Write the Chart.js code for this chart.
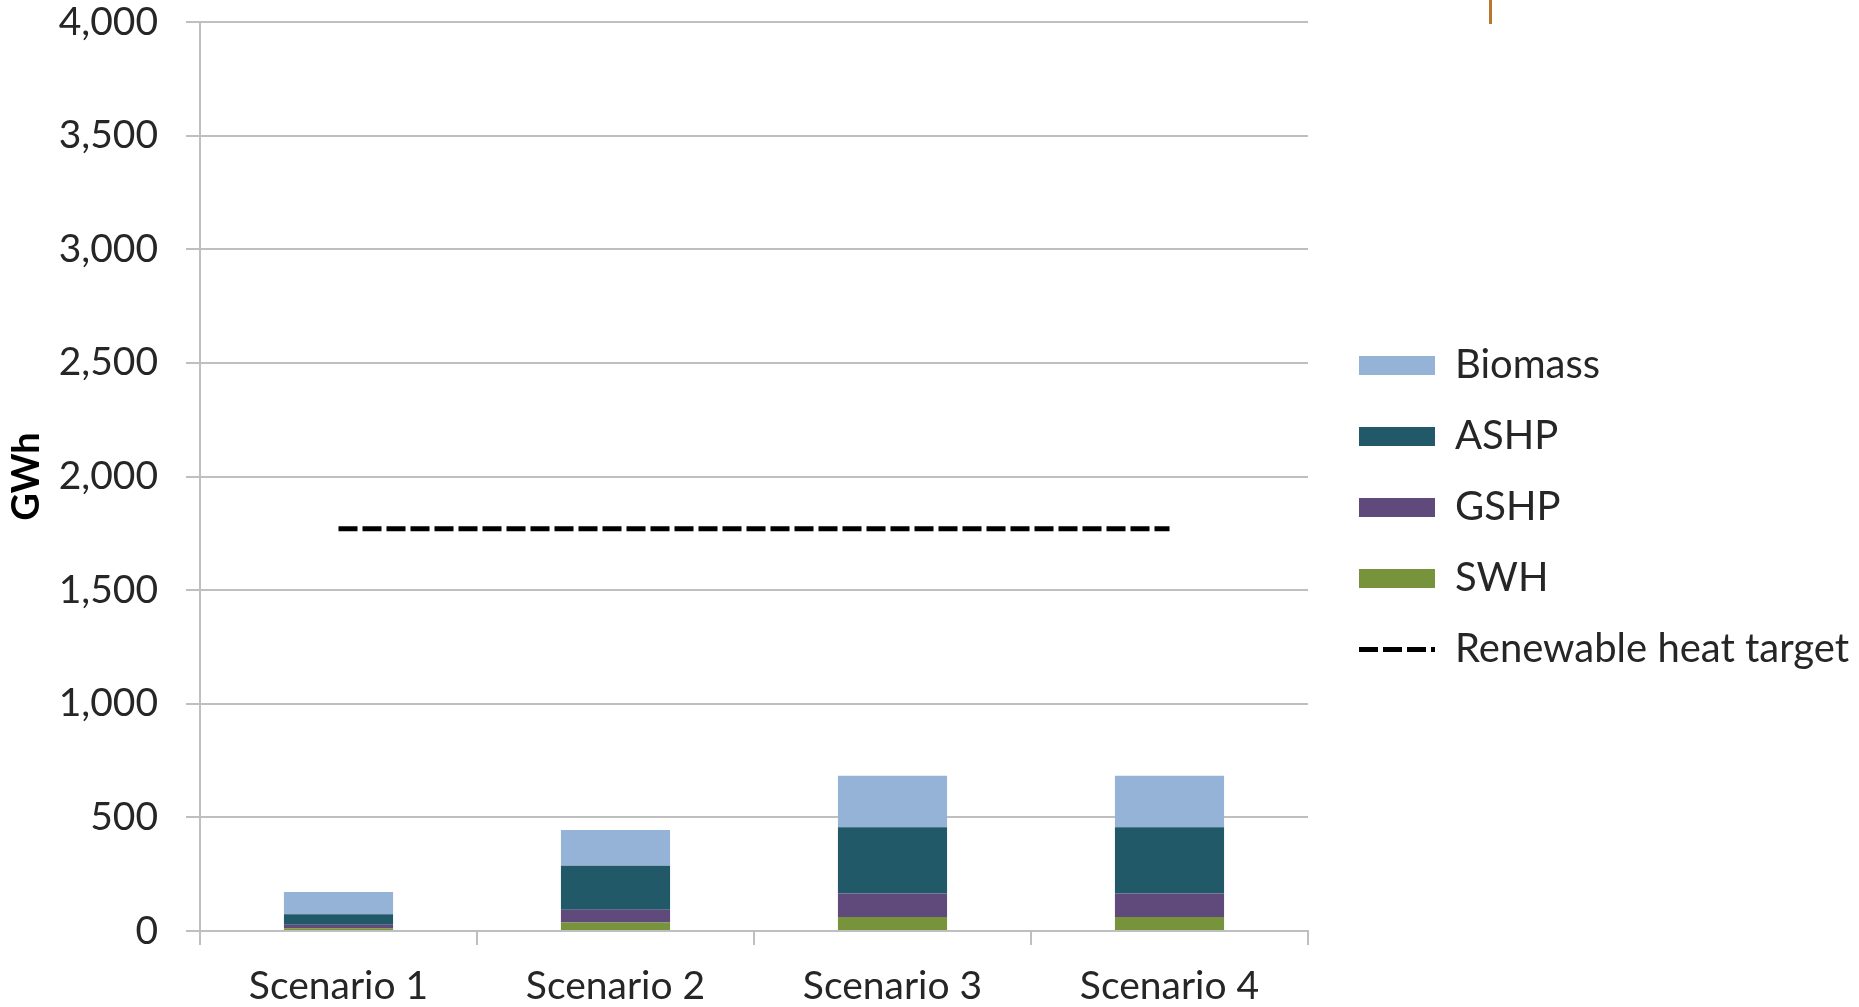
<!DOCTYPE html>
<html>
<head>
<meta charset="utf-8">
<script src="https://cdn.jsdelivr.net/npm/chart.js@4.4.1/dist/chart.umd.min.js"></script>
<style>
  html, body { margin: 0; padding: 0; background: #fff; }
  #wrap { position: relative; width: 1859px; height: 1007px; }
  #heatChart { display: block; }
  .stray-mark { position: absolute; left: 1489px; top: 0; width: 3px; height: 24px; background: #b8772e; }
</style>
</head>
<body>
<div id="wrap">
  <canvas id="heatChart" width="1859" height="1007"></canvas>
  <div class="stray-mark"></div>
</div>
<script>
const scenarios = ['Scenario 1', 'Scenario 2', 'Scenario 3', 'Scenario 4'];

// GWh per technology, bottom of the stack first
const swh = [12, 37, 62, 62];
const gshp = [16, 56, 103, 103];
const ashp = [46, 194, 291, 291];
const biomass = [98, 157, 227, 227];
const heatTarget = [1770, 1770, 1770, 1770];

const yTicks = [0, 500, 1000, 1500, 2000, 2500, 3000, 3500, 4000];

const textColor = '#262626';
const gridColor = '#bfbfbf';
const baseFont = 'Lato, "Open Sans", sans-serif';

// keep the legend at a fixed width and nudge its items right/down
const legendLayout = {
    id: 'legendLayout',
    beforeLayout(chart) {
        const lg = chart.legend;
        if (lg && !lg._fixedWidth) {
            const fit = lg.fit;
            lg.fit = function () {
                fit.call(this);
                this.width = 551;
            };
            lg._fixedWidth = true;
        }
    },
    afterLayout(chart) {
        const lg = chart.legend;
        if (lg) {
            lg.left += 20;
            lg.right += 20;
            lg.top += 4;
            lg.bottom += 4;
        }
    }
};

function makeLegendItems(chart) {
    const items = Chart.defaults.plugins.legend.labels.generateLabels(chart);
    items.forEach(item => {
        const ds = chart.data.datasets[item.datasetIndex];
        if (ds.type === 'line') {
            item.pointStyle = 'line';
            item.fillStyle = '#000';
            item.strokeStyle = '#000';
            item.lineWidth = 5;
            item.lineDash = [19, 5];
        } else {
            item.pointStyle = 'rect';
            item.lineWidth = 0;
        }
    });
    return items;
}

function initChart() {
    const ctx = document.getElementById('heatChart').getContext('2d');
    new Chart(ctx, {
        type: 'bar',
        data: {
            labels: scenarios,
            datasets: [
                { label: 'SWH', data: swh, backgroundColor: '#77933c', stack: 'tech' },
                { label: 'GSHP', data: gshp, backgroundColor: '#604a7b', stack: 'tech' },
                { label: 'ASHP', data: ashp, backgroundColor: '#215968', stack: 'tech' },
                { label: 'Biomass', data: biomass, backgroundColor: '#95b3d7', stack: 'tech' },
                {
                    type: 'line',
                    label: 'Renewable heat target',
                    data: heatTarget,
                    stack: 'target',
                    borderColor: '#000',
                    backgroundColor: '#000',
                    borderWidth: 5,
                    borderDash: [19, 5],
                    pointRadius: 0,
                    fill: false
                }
            ]
        },
        options: {
            responsive: false,
            animation: false,
            devicePixelRatio: 1,
            layout: { padding: 0 },
            datasets: {
                bar: { barPercentage: 0.394, categoryPercentage: 1 }
            },
            scales: {
                x: {
                    stacked: true,
                    grid: {
                        drawOnChartArea: false,
                        offset: true,
                        color: gridColor,
                        lineWidth: 2,
                        tickLength: 14
                    },
                    border: { color: gridColor, width: 2 },
                    ticks: {
                        color: textColor,
                        font: { family: baseFont, size: 39 },
                        padding: 18,
                        maxRotation: 0
                    },
                    afterFit(scale) { scale.height = 76; }
                },
                y: {
                    stacked: true,
                    min: yTicks[0],
                    max: yTicks[yTicks.length - 1],
                    afterBuildTicks(scale) {
                        scale.ticks = yTicks.map(v => ({ value: v }));
                    },
                    grid: { color: gridColor, lineWidth: 2, tickLength: 14 },
                    border: { color: gridColor, width: 2 },
                    ticks: {
                        color: textColor,
                        font: { family: baseFont, size: 39 },
                        padding: 28,
                        callback: v => Number(v).toLocaleString('en-US')
                    },
                    title: {
                        display: true,
                        text: 'GWh',
                        color: '#000',
                        font: { family: baseFont, size: 38, weight: 'bold' },
                        padding: { top: 4, bottom: 4 }
                    },
                    afterFit(scale) {
                        scale.width = 200;
                        // only half a label above the top gridline
                        scale.paddingTop = 22;
                    }
                }
            },
            plugins: {
                tooltip: { enabled: false },
                legend: {
                    position: 'right',
                    align: 'center',
                    labels: {
                        color: textColor,
                        font: { family: baseFont, size: 40 },
                        usePointStyle: true,
                        pointStyleWidth: 76,
                        boxHeight: 19,
                        padding: 31,
                        generateLabels: makeLegendItems,
                        sort: (a, b) => {
                            const rank = i => (i === 4 ? 99 : -i);
                            return rank(a.datasetIndex) - rank(b.datasetIndex);
                        }
                    }
                }
            }
        },
        plugins: [legendLayout]
    });
}

window.onload = initChart;
</script>
</body>
</html>
